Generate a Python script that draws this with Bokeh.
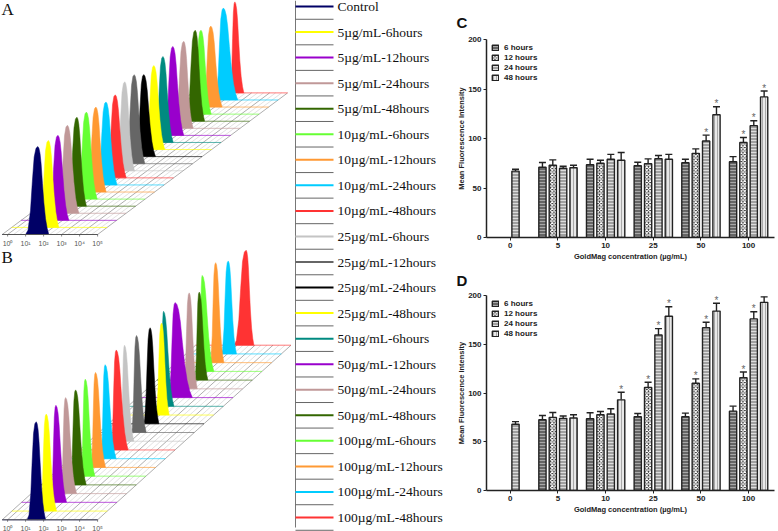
from bokeh.plotting import figure
from bokeh.layouts import row, column
from bokeh.models import ColumnDataSource, Whisker, TeeHead, Legend, LegendItem, FixedTicker
from bokeh.core.properties import value
from bokeh.embed import file_html
from bokeh.resources import INLINE

COLORS = ["#000066", "#ffff00", "#9900cc", "#c09898", "#336600", "#66ff33", "#ff9933", "#00ccff", "#ff3333",
          "#c4c4c4", "#666666", "#000000", "#ffff00", "#008a80", "#9900cc", "#c09898", "#336600", "#66ff33",
          "#ff9933", "#00ccff", "#ff3333"]
LABELS = ["Control", "5µg/mL-6hours", "5µg/mL-12hours", "5µg/mL-24hours", "5µg/mL-48hours",
          "10µg/mL-6hours", "10µg/mL-12hours", "10µg/mL-24hours", "10µg/mL-48hours",
          "25µg/mL-6hours", "25µg/mL-12hours", "25µg/mL-24hours", "25µg/mL-48hours",
          "50µg/mL-6hours", "50µg/mL-12hours", "50µg/mL-24hours", "50µg/mL-48hours",
          "100µg/mL-6hours", "100µg/mL-12hours", "100µg/mL-24hours", "100µg/mL-48hours"]
DECADES = ["10⁰", "10¹", "10²", "10³", "10⁴", "10⁵"]

# histograms, read per sample: peak position (decades), peak height, feet (decades)
A_PEAK = [1.98, 2.04, 2.04, 2.04, 2.04, 2.04, 2.04, 2.07, 2.06, 2.06, 2.06, 2.06, 2.09, 2.07, 2.09, 2.17, 2.28, 2.07, 2.09, 2.26, 2.37]
A_HEIGHT = [88, 87, 85, 88, 89, 87, 85, 83, 83, 89, 89, 82, 84, 86, 89, 87, 91, 84, 81, 92, 91]
A_LEFT = [1.30, 1.50, 1.50, 1.50, 1.50, 1.52, 1.52, 1.55, 1.55, 1.55, 1.55, 1.60, 1.62, 1.60, 1.60, 1.65, 1.75, 1.62, 1.65, 1.78, 2.09]
A_RIGHT = [2.59, 2.62, 2.65, 2.68, 2.57, 2.64, 2.61, 2.69, 2.67, 2.60, 2.65, 2.71, 2.70, 2.64, 2.70, 2.69, 2.80, 2.64, 2.72, 3.06, 2.87]
B_PEAK = [1.89, 1.91, 1.91, 1.91, 1.93, 1.93, 1.96, 1.96, 2.04, 1.96, 2.09, 2.31, 2.41, 1.98, 2.09, 2.33, 2.35, 1.98, 2.19, 2.35, 2.81]
B_HEIGHT = [98, 97, 97, 96, 95, 97, 95, 94, 100, 96, 97, 96, 92, 95, 95, 96, 88, 96, 100, 93, 95]
B_LEFT = [1.39, 1.56, 1.61, 1.63, 1.61, 1.67, 1.69, 1.70, 1.72, 1.74, 1.80, 1.93, 2.07, 1.81, 1.70, 2.00, 2.09, 1.80, 1.87, 1.96, 2.13]
B_RIGHT = [2.41, 2.48, 2.50, 2.52, 2.52, 2.46, 2.52, 2.57, 2.70, 2.48, 2.63, 2.80, 2.83, 2.56, 3.04, 2.78, 2.83, 2.63, 2.65, 2.81, 3.24]
# common histogram outline, read from the peaks
LEFT_FRAC = [0, .2, .4, .55, .7, .85, 1]
LEFT_LEVEL = [0, .05, .27, .6, .88, .98, 1]
RIGHT_FRAC = [.1, .2, .3, .42, .55, .7, .85, 1]
RIGHT_LEVEL = [.98, .92, .8, .58, .36, .18, .07, 0]

# bar chart values, groups 5, 10, 25, 50, 100; control only has a 24 hours bar
GROUPS = ["0", "5", "10", "25", "50", "100"]
SERIES = ["6 hours", "12 hours", "24 hours", "48 hours"]
C_CTRL, C_CTRL_TOP = 67, 69
C_VAL = [[71, 73.5, 72.5, 75.5, 76.5], [73, 75, 74.5, 85, 96], [70, 79, 79.5, 97.5, 113], [70.5, 78, 79, 124, 142]]
C_TOP = [[75.7, 79, 76, 79, 81.7], [78.4, 78, 79.4, 89.5, 101], [72, 84, 82.8, 103.4, 118], [73, 85.8, 84, 132, 148]]
C_STAR = [[0, 0, 0, 0, 0], [0, 0, 0, 0, 1], [0, 0, 0, 1, 1], [0, 0, 0, 1, 1]]
D_CTRL, D_CTRL_TOP = 68, 70.6
D_VAL = [[72.6, 73.6, 75.7, 75.7, 81.4], [75, 77.7, 105.7, 110, 115.7], [74, 78.4, 159.5, 167, 176], [74.3, 93, 178.7, 184, 193]]
D_TOP = [[77, 79.7, 79, 79.4, 86.5], [80, 81, 111, 114.5, 121.6], [76.4, 83.8, 166, 172.6, 183.4], [77.7, 100.7, 188.5, 192, 198.6]]
D_STAR = [[0, 0, 0, 0, 0], [0, 0, 1, 1, 1], [0, 0, 1, 1, 1], [0, 1, 1, 1, 1]]

STYLE = [dict(fill_color="#666666", hatch_pattern="horizontal_line", hatch_color="#a8a8a8", hatch_scale=3, hatch_weight=1),
         dict(fill_color="#222222", hatch_pattern="diagonal_cross", hatch_color="#ffffff", hatch_scale=3.5, hatch_weight=1.2),
         dict(fill_color="#a0a0a0", hatch_pattern="horizontal_line", hatch_color="#dddddd", hatch_scale=3, hatch_weight=1),
         dict(fill_color="#e8e8e8", hatch_pattern="vertical_line", hatch_color="#999999", hatch_scale=3, hatch_weight=0.8)]


def bare(width, height, xr, yr):
    p = figure(width=width, height=height, x_range=xr, y_range=yr, output_backend="svg", toolbar_location=None,
               min_border=0, outline_line_color=None)
    p.axis.visible = False
    p.grid.visible = False
    return p


def ridge(p, x0, y0, dx, dy, peak, height, left, right):
    dec = 18.0
    n = len(peak)
    fx, fy = [[x0, x0 + (n - 1) * dx]], [[y0, y0 - (n - 1) * dy]]
    sx, sy = [], []
    for k in range(16):
        d = k / 3 + .3
        line_x = [x0 + d * dec, x0 + d * dec + (n - 1) * dx]
        line_y = [y0, y0 - (n - 1) * dy]
        if k % 3 == 0:
            fx.append(line_x); fy.append(line_y)
        else:
            sx.append(line_x); sy.append(line_y)
    p.multi_line(sx, sy, line_color="#d4d4d4", line_width=0.7)
    p.multi_line(fx, fy, line_color="#999999", line_width=0.8)
    rx = [[x0 + i * dx, x0 + i * dx + 5.3 * dec] for i in range(n)]
    ry = [[y0 - i * dy, y0 - i * dy] for i in range(n)]
    p.multi_line(rx, ry, line_color=COLORS, line_width=1, line_alpha=0.65)
    xs, ys = [], []
    for i in range(n - 1, -1, -1):
        ox, oy = x0 + i * dx, y0 - i * dy
        px = [left[i] + f * (peak[i] - left[i]) for f in LEFT_FRAC] + [peak[i] + f * (right[i] - peak[i]) for f in RIGHT_FRAC]
        py = LEFT_LEVEL + RIGHT_LEVEL
        xs.append([ox + v * dec for v in px])
        ys.append([oy - v * height[i] for v in py])
    p.patches(xs, ys, fill_color=COLORS[::-1], line_color=COLORS[::-1], line_width=0.5)
    p.segment([x0], [y0], [x0 + 5.3 * dec], [y0], line_color="#555555", line_width=1)
    tx = [x0 + (k + .3) * dec for k in range(6)]
    p.segment(tx, [y0] * 6, tx, [y0 + 2] * 6, line_color="#555555", line_width=0.7)
    p.text(tx, [y0 + 8.5] * 6, text=DECADES, text_font=value("Liberation Sans"), text_font_size="7px",
           text_color="#555555", text_align="center", text_baseline="middle")


pa = bare(293, 248, (0, 293), (248, 0))
ridge(pa, 1.7, 234, 9.5, 7.08, A_PEAK, A_HEIGHT, A_LEFT, A_RIGHT)
pa.text([1], [9], text=["A"], text_font=value("Liberation Serif"), text_font_size="17px", text_color="#111111",
        text_baseline="middle")

pb = bare(293, 283, (0, 293), (531, 248))
ridge(pb, 1.7, 519.3, 9.67, 8.73, B_PEAK, B_HEIGHT, B_LEFT, B_RIGHT)
pb.text([1], [257], text=["B"], text_font=value("Liberation Serif"), text_font_size="17px", text_color="#111111",
        text_baseline="middle")

pl = bare(152, 531, (293, 445), (531, 0))
pl.segment([295], [0], [295], [527], line_color="#777777", line_width=1)
ly = [6 + i * 25.55 for i in range(len(LABELS))]
sep = [6 + (i + .5) * 25.55 for i in range(len(LABELS))]
pl.segment([295] * len(sep), sep, [333] * len(sep), sep, line_color="#666666", line_width=1)
pl.segment([295] * len(ly), ly, [333] * len(ly), ly, line_color=COLORS, line_width=2)
pl.text([337] * len(ly), ly, text=LABELS, text_font=value("Liberation Serif"), text_font_size="13.5px",
        text_color="#111111", text_baseline="middle")


def bars(height, top, bottom, letter, standoff, legend_up, ctrl, ctrl_top, val, tops, star):
    p = figure(width=333, height=height, x_range=(-2.3, 25.5), y_range=(0, 200), output_backend="svg",
               toolbar_location=None, min_border_left=41, min_border_right=4, min_border_top=top,
               min_border_bottom=bottom, outline_line_color=None, background_fill_color="white", title=letter)
    p.title.text_font = "Liberation Sans"
    p.title.text_font_size = "15px"
    p.title.text_font_style = "bold"
    p.title.text_color = "#111111"
    p.title.align = "left"
    p.title.offset = -30
    p.title.standoff = standoff
    p.grid.visible = False
    step = 4.6
    renderers = []
    for s, name in enumerate(SERIES):
        xv = [(g + 1) * step + s - 1.5 for g in range(5)]
        yv = val[s]
        up = tops[s]
        if s == 2:
            xv = [0 * step + s - 1.5] + xv
            yv = [ctrl] + yv
            up = [ctrl_top] + up
        src = ColumnDataSource(dict(x=xv, y=yv, up=up))
        r = p.vbar("x", top="y", bottom=0, width=0.7, source=src, line_color="#222222", line_width=1.4, **STYLE[s])
        renderers.append(LegendItem(label=name, renderers=[r]))
        p.add_layout(Whisker(base="x", upper="up", lower="y", source=src, line_color="#222222", line_width=1.4,
                             upper_head=TeeHead(size=7, line_color="#222222", line_width=1.4), lower_head=None))
        st = [i for i, f in enumerate(star[s]) if f]
        if st:
            p.text([(i + 1) * step + s - 1.5 for i in st], [tops[s][i] + 5 for i in st], text=["*"] * len(st),
                   text_font=value("Liberation Sans"), text_font_size="10px", text_color="#666666",
                   text_align="center", text_baseline="middle", y_offset=2)
    lg = Legend(items=renderers, location=(5, height - top - bottom - legend_up), orientation="vertical", glyph_width=8, glyph_height=7,
                label_height=7, spacing=1, padding=0, margin=0, background_fill_alpha=0, border_line_color=None,
                label_text_font="Liberation Sans", label_text_font_size="8px", label_text_font_style="bold",
                label_standoff=5, label_text_color="#222222")
    p.add_layout(lg)
    p.xaxis.ticker = FixedTicker(ticks=[g * step for g in range(6)])
    p.xaxis.major_label_overrides = {g * step: GROUPS[g] for g in range(6)}
    p.yaxis.ticker = FixedTicker(ticks=[0, 50, 100, 150, 200])
    p.xaxis.axis_label = "GoldMag concentration (µg/mL)"
    p.yaxis.axis_label = "Mean Fluorescence Intensity"
    for ax in (p.xaxis[0], p.yaxis[0]):
        ax.axis_line_color = "#222222"
        ax.axis_line_width = 1.5
        ax.major_tick_line_color = "#222222"
        ax.major_tick_line_width = 1
        ax.major_tick_out = 3
        ax.major_tick_in = 0
        ax.minor_tick_out = 0
        ax.minor_tick_in = 0
        ax.major_label_text_font = "Liberation Sans"
        ax.major_label_text_font_size = "8px"
        ax.major_label_text_font_style = "bold"
        ax.major_label_text_color = "#222222"
        ax.axis_label_text_font = "Liberation Sans"
        ax.axis_label_text_font_size = "7.5px"
        ax.axis_label_text_font_style = "bold"
        ax.axis_label_text_color = "#222222"
        ax.major_label_standoff = 2
    p.xaxis[0].axis_label_standoff = 1
    p.yaxis[0].axis_label_standoff = -1
    return p


pc = bars(263, 39, 26, "C", 18, 43, C_CTRL, C_CTRL_TOP, C_VAL, C_TOP, C_STAR)
pd_ = bars(268, 30, 41, "D", 13, 45, D_CTRL, D_CTRL_TOP, D_VAL, D_TOP, D_STAR)

page = row(column(pa, pb, spacing=0), pl, column(pc, pd_, spacing=0), spacing=0)
open("out.html", "w").write(file_html(page, INLINE))
